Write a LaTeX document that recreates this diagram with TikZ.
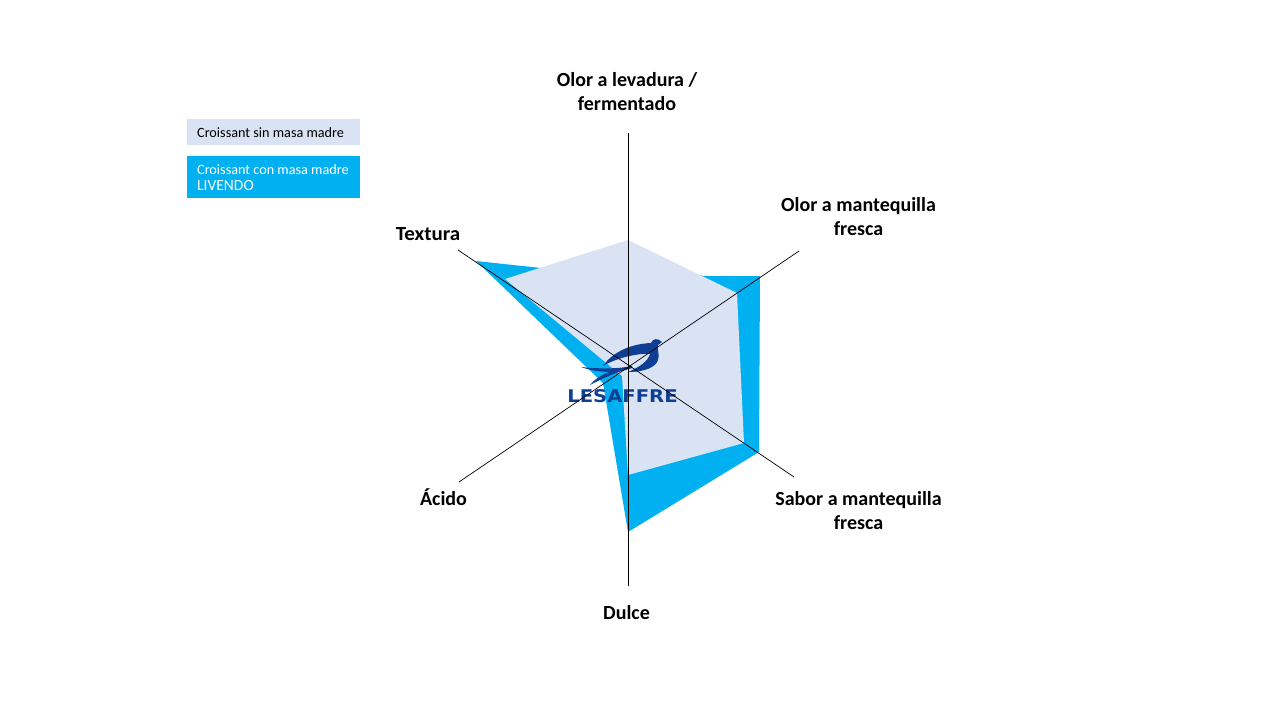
\documentclass[tikz,border=0pt]{standalone}
\usepackage{fontspec}
\setmainfont{Carlito}
\newfontfamily\logofont{DejaVu Sans}
\definecolor{paleblue}{HTML}{DAE3F3}
\definecolor{skyblue}{HTML}{00B0F0}
\definecolor{logoblue}{HTML}{0F3F94}
\tikzset{
  axisline/.style={draw=black,line width=0.7pt},
  axislabel/.style={font=\fontsize{20}{24}\selectfont\bfseries,align=center,text=black,inner sep=0pt},
  legendtext/.style={font=\fontsize{14.2}{16.5}\selectfont,align=left,anchor=west,inner sep=0pt}
}
\begin{document}
\begin{tikzpicture}[x=1pt,y=-1pt]
\useasboundingbox (0,0) rectangle (1280,720);
% legend
\fill[paleblue] (187,119) rectangle (360,145);
\fill[skyblue] (187,156) rectangle (360,198);
\node[legendtext,text=black] (leg1) at (197,132.5) {Croissant sin masa madre};
\node[legendtext,text=white] (leg2) at (197,177.5) {Croissant con masa madre\\{\fontsize{15.5}{16.5}\selectfont LIVENDO}};
% series
\fill[skyblue] (476,261) -- (541,268) -- (628,262) -- (704,276) -- (760,276) -- (759,452) -- (628,532) -- (603,383) -- cycle;
\fill[paleblue] (628,240) -- (737,293) -- (744,443) -- (628,475) -- (622,376) -- (505,279) -- cycle;
% logo
\fill[logoblue] (603,366) .. controls (611,354) and (628,344) .. (651,343) .. controls (653,338) and (658,338) .. (662,342) -- (658,345) .. controls (657,350) and (660,355) .. (658,360) .. controls (656,367) and (645,372) .. (628,372) .. controls (640,367) and (648,361) .. (650,354) .. controls (640,353) and (618,357) .. (603,366) -- cycle;
\fill[logoblue] (581,367) .. controls (595,368.5) and (615,369.5) .. (632,366) -- (632,368) .. controls (616,374) and (596,372.5) .. (581,367) -- cycle;
\fill[logoblue] (590,385) .. controls (598,375) and (612,369) .. (632,367) .. controls (618,372) and (603,378) .. (590,385) -- cycle;
\node[font=\logofont\bfseries,text=logoblue,inner sep=0pt,xscale=1.12] (logo) at (622.5,396.5) {\fontsize{17.5}{17.5}\selectfont LESAFFRE};
% axes
\coordinate (top) at (628,133);
\coordinate (bottom) at (628,586);
\coordinate (ne) at (799,251);
\coordinate (sw) at (459,482);
\coordinate (nw) at (458,250);
\coordinate (se) at (794,477);
\draw[axisline] (top) -- (bottom);
\draw[axisline] (ne) -- (sw);
\draw[axisline] (nw) -- (se);
% labels
\node[axislabel] (l1) at (627,92) {Olor a levadura /\\fermentado};
\node[axislabel] (l2) at (858.5,216.5) {Olor a mantequilla\\fresca};
\node[axislabel] (l3) at (858.5,511) {Sabor a mantequilla\\fresca};
\node[axislabel] (l4) at (626.5,612.5) {Dulce};
\node[axislabel] (l5) at (443.5,497) {Ácido};
\node[axislabel,xscale=1.05] (l6) at (428,234) {Textura};
\end{tikzpicture}
\end{document}
